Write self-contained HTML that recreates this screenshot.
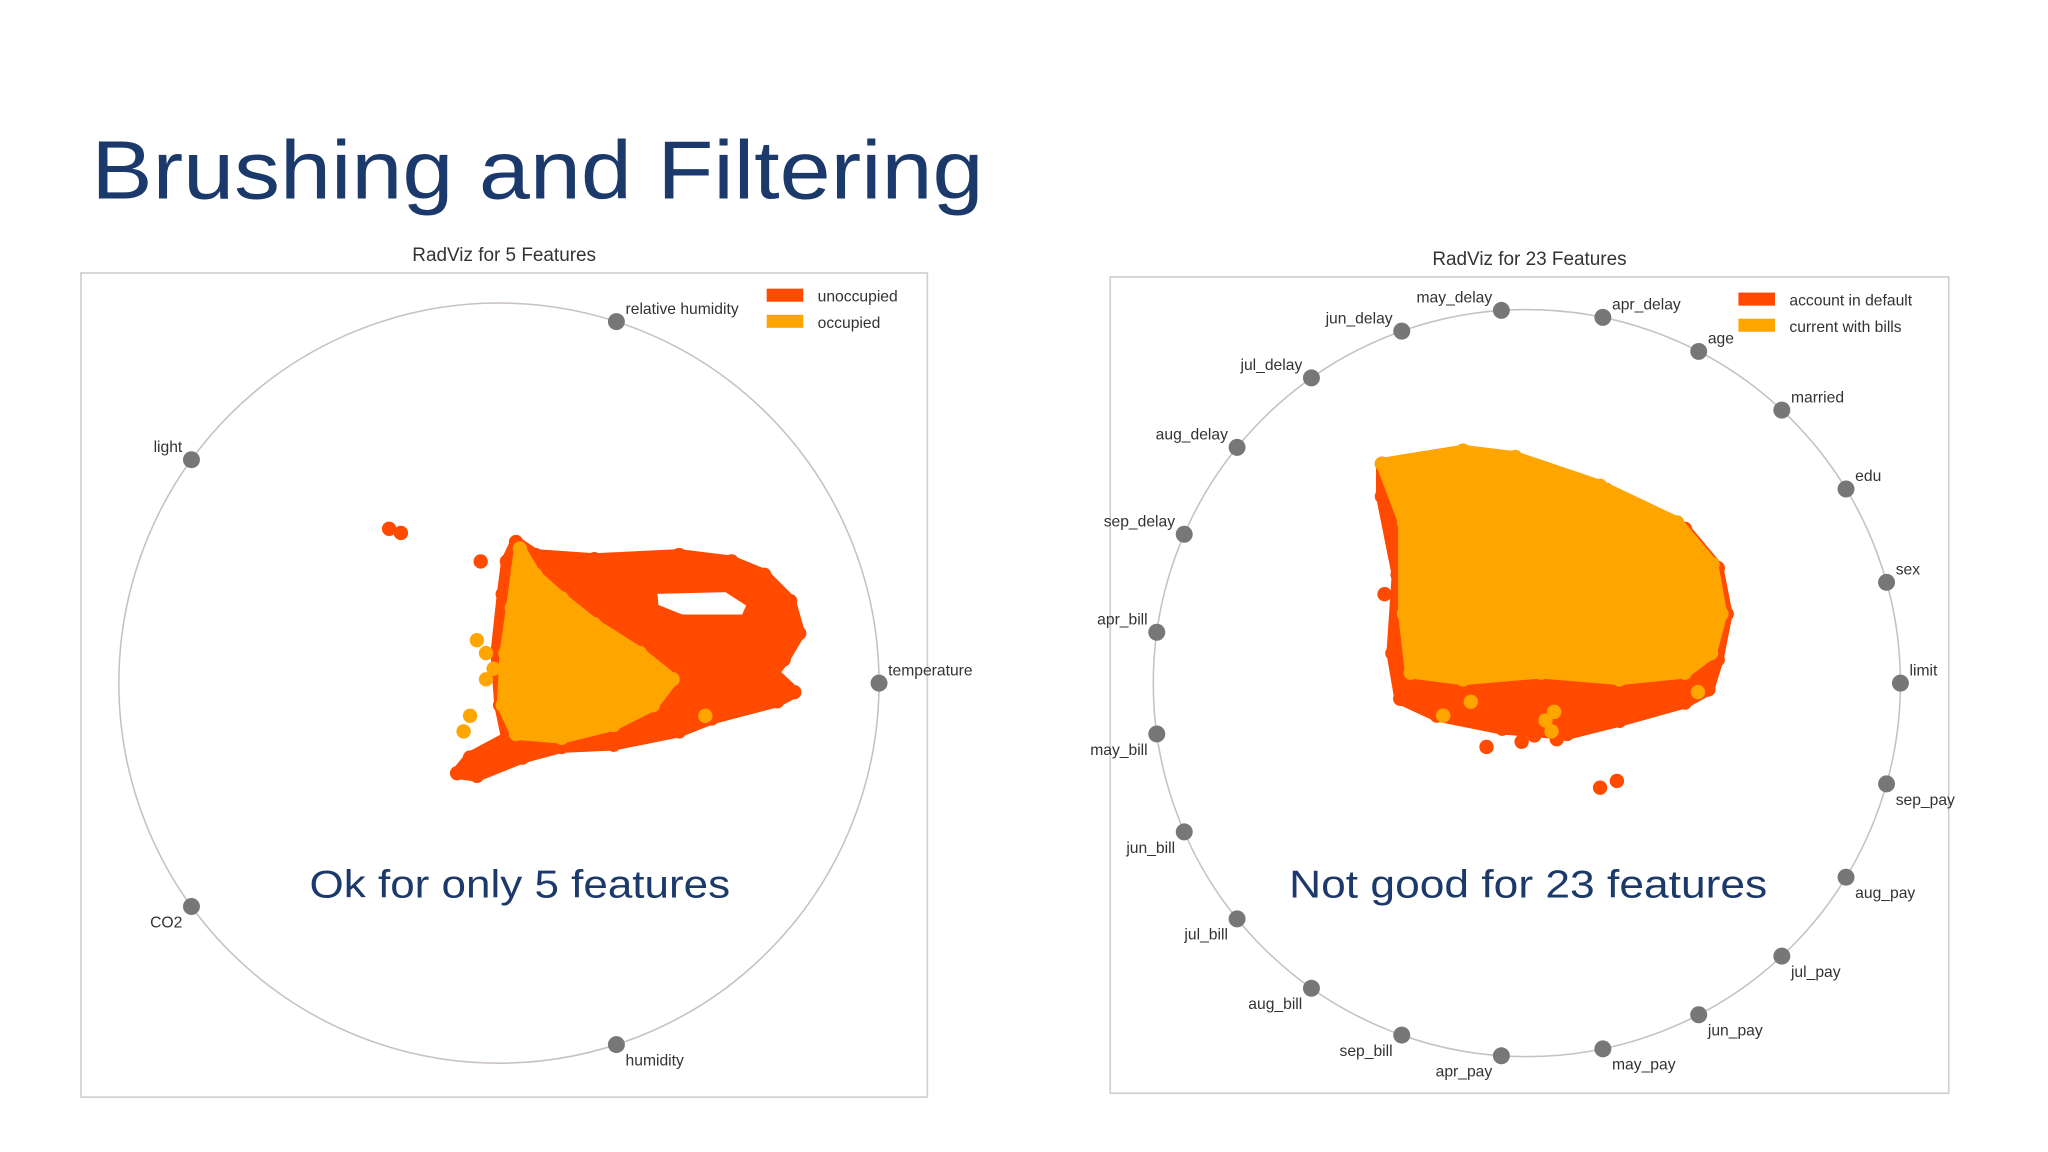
<!DOCTYPE html>
<html>
<head>
<meta charset="utf-8">
<style>
html,body{margin:0;padding:0;background:#fff;}
svg{display:block;}
text{font-family:"Liberation Sans",sans-serif;}
</style>
</head>
<body>
<svg id="slide" width="2048" height="1152" viewBox="0 0 1568 882">
<text x="70" y="152" font-size="63" fill="#1b3a6b" textLength="683" lengthAdjust="spacingAndGlyphs">Brushing and Filtering</text>
<g id="left"></g>
<g id="right"></g>
</svg>
<script>
// ---- Data: left chart (5 features) ----
const leftFeatures = ["temperature","relative humidity","light","CO2","humidity"];
const leftClasses = ["unoccupied","occupied"];
const leftRedHull = [[0.045,0.371],[0.096,0.337],[0.251,0.326],[0.474,0.337],[0.612,0.320],[0.698,0.285],[0.766,0.216],[0.790,0.131],[0.749,0.062],[0.722,0.027],[0.777,-0.024],[0.732,-0.048],[0.560,-0.093],[0.474,-0.127],[0.302,-0.162],[0.165,-0.168],[0.062,-0.196],[-0.058,-0.244],[-0.110,-0.237],[-0.076,-0.196],[0.021,-0.144],[0.003,-0.058],[-0.007,0.079],[0.010,0.234],[0.021,0.320]];
const leftRedHole = [[0.400,0.250],[0.600,0.255],[0.670,0.210],[0.650,0.165],[0.480,0.165],[0.405,0.195]];
const leftOrangeHull = [[0.055,0.354],[0.096,0.285],[0.165,0.223],[0.251,0.155],[0.371,0.079],[0.457,0.010],[0.405,-0.058],[0.302,-0.110],[0.165,-0.144],[0.045,-0.134],[0.010,-0.058],[0.017,0.079],[0.034,0.199]];
const leftRedPoints = [[-0.289,0.406],[-0.258,0.395],[-0.048,0.320],[0.241,0.313],[0.230,0.300],[0.550,0.300],[0.700,0.100],[0.600,-0.070]];
const leftOrangePoints = [[-0.058,0.113],[-0.034,0.079],[-0.076,-0.086],[-0.093,-0.127],[-0.014,0.038],[0.543,-0.086],[-0.034,0.010],[0.050,0.300]];
// ---- Data: right chart (23 features) ----
const rightFeatures = ["limit","sex","edu","married","age","apr_delay","may_delay","jun_delay","jul_delay","aug_delay","sep_delay","apr_bill","may_bill","jun_bill","jul_bill","aug_bill","sep_bill","apr_pay","may_pay","jun_pay","jul_pay","aug_pay","sep_pay"];
const rightClasses = ["account in default","current with bills"];
const rightRedHull = [[-0.388,0.587],[-0.171,0.622],[-0.031,0.598],[0.213,0.517],[0.423,0.413],[0.511,0.308],[0.535,0.185],[0.511,0.063],[0.486,-0.017],[0.423,-0.052],[0.248,-0.101],[0.108,-0.136],[-0.066,-0.122],[-0.241,-0.087],[-0.339,-0.042],[-0.360,0.080],[-0.346,0.290],[-0.388,0.500]];
const rightOrangeHull = [[-0.388,0.587],[-0.171,0.622],[-0.031,0.605],[0.196,0.528],[0.402,0.430],[0.497,0.318],[0.521,0.185],[0.493,0.080],[0.423,0.028],[0.248,0.010],[0.038,0.028],[-0.171,0.010],[-0.311,0.028],[-0.329,0.185],[-0.329,0.430]];
const rightRedPoints = [[-0.108,-0.171],[-0.014,-0.157],[0.196,-0.280],[0.241,-0.262],[0.080,-0.150],[-0.381,0.238],[0.160,-0.110],[0.020,-0.140]];
const rightOrangePoints = [[-0.224,-0.087],[0.066,-0.129],[0.073,-0.077],[0.458,-0.024],[0.050,-0.100],[-0.150,-0.050]];

const NS="http://www.w3.org/2000/svg";
const RED="#ff4a00", ORANGE="#ffa500";
function mk(tag,attrs,parent){const e=document.createElementNS(NS,tag);for(const k in attrs)e.setAttribute(k,attrs[k]);parent.appendChild(e);return e;}

function chart(g,o){
  const sx=v=>o.cx+v*o.r, sy=v=>o.cy-v*o.r;
  const fr=mk('rect',{x:o.fx,y:o.fy,width:o.fw,height:o.fh,fill:"#fff",stroke:"#d0d0d0","stroke-width":1.3},g);
  
  
  const t=mk('text',{x:o.fx+o.fw/2,y:o.fy-9,"font-size":14.5,fill:"#333","text-anchor":"middle"},g);
  t.textContent=o.title;
  
  
  const c=mk('circle',{cx:o.cx,cy:o.cy,r:o.r,fill:"none",stroke:"#c8c0c8","stroke-width":1.2},g);
  
  
  function path(pts){return pts.map((p,i)=>(i?"L":"M")+sx(p[0]).toFixed(1)+","+sy(p[1]).toFixed(1)).join("")+"Z";}
  function cluster(hull,hole,pts,color,name){
    const d=path(hull)+(hole?path(hole):"");
    const p=mk('path',{d:d,fill:color,"fill-rule":"evenodd",stroke:color,"stroke-width":9,"stroke-linejoin":"round"},g);
    
    
    hull.concat(pts).forEach(q=>{
      const e=mk('circle',{cx:sx(q[0]),cy:sy(q[1]),r:5.5,fill:color},g);
      
      
    });
  }
  cluster(o.redHull,o.redHole,o.redPts,RED,'class-1');
  cluster(o.orHull,null,o.orPts,ORANGE,'class-2');
  const n=o.features.length;
  o.features.forEach((f,i)=>{
    const a=2*Math.PI*i/n, x=Math.cos(a), y=Math.sin(a);
    const d=mk('circle',{cx:sx(x),cy:sy(y),r:6.5,fill:"#777"},g);
    
    
    const ha=x<-0.01?"end":"start", below=y<-0.01;
    const lt=mk('text',{x:sx(x)+(x<-0.01?-7:7),y:sy(y)+(below?16:-6),"font-size":12,fill:"#333","text-anchor":ha},g);
    lt.textContent=f;
    
    
  });
  o.classes.forEach((cl,i)=>{
    const s=mk('rect',{x:o.lx,y:o.ly+i*20-5,width:28,height:10,fill:i?ORANGE:RED},g);
    
    
    const lt=mk('text',{x:o.lx+39,y:o.ly+i*20+5,"font-size":12,fill:"#333"},g);
    lt.textContent=cl;
    
    
  });
  const st=mk('text',{x:o.subx-o.subw/2,y:687,"font-size":30,fill:"#1b3a6b",textLength:o.subw,lengthAdjust:"spacingAndGlyphs"},g);
  st.textContent=o.sub;
  
  
}
chart(document.getElementById('left'),{fx:62,fy:209,fw:648,fh:631,cx:382,cy:523,r:291,title:"RadViz for 5 Features",
  features:leftFeatures,classes:leftClasses,redHull:leftRedHull,redHole:leftRedHole,redPts:leftRedPoints,orHull:leftOrangeHull,orPts:leftOrangePoints,
  lx:587,ly:226,sub:"Ok for only 5 features",subx:398,subw:322});
chart(document.getElementById('right'),{fx:850,fy:212,fw:642,fh:625,cx:1169,cy:523,r:286,title:"RadViz for 23 Features",
  features:rightFeatures,classes:rightClasses,redHull:rightRedHull,redHole:null,redPts:rightRedPoints,orHull:rightOrangeHull,orPts:rightOrangePoints,
  lx:1331,ly:229,sub:"Not good for 23 features",subx:1170,subw:366});
</script>
</body>
</html>
